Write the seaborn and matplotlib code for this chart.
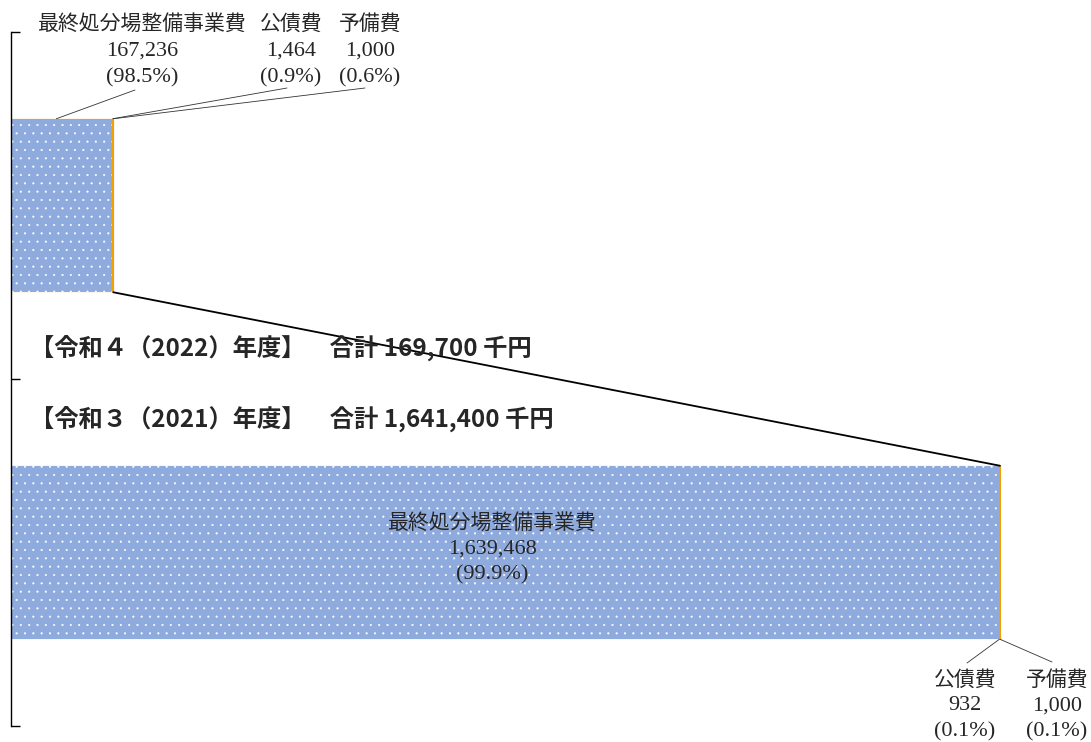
import numpy as np
import pandas as pd
import matplotlib
matplotlib.use("Agg")
import matplotlib.pyplot as plt
import seaborn as sns

# data
years = ["2022", "2021"]
items = ["最終処分場整備事業費", "公債費", "予備費"]
values_2022 = [167236, 1464, 1000]
values_2021 = [1639468, 932, 1000]
shares_2022 = ["(98.5%)", "(0.9%)", "(0.6%)"]
shares_2021 = ["(99.9%)", "(0.1%)", "(0.1%)"]
headers = ["【令和４（2022）年度】　合計 169,700 千円",
           "【令和３（2021）年度】　合計 1,641,400 千円"]
colors = ["#8FAADC", "#F5A000", "#F5A000"]

W, H = 1091, 742


def px(x, y):
    return x / W, 1 - y / H


sns.set_theme(style="white")
plt.rcParams["font.family"] = ["Noto Sans CJK JP", "DejaVu Sans"]
plt.rcParams["hatch.color"] = "white"
plt.rcParams["hatch.linewidth"] = 0.3
num_font = ["Liberation Serif", "Noto Sans CJK JP"]

rows = []
for year, vals in zip(years, [values_2022, values_2021]):
    cum = np.cumsum(vals)
    for item, c in zip(items, cum):
        rows.append({"year": year, "item": item, "cum": c})
df = pd.DataFrame(rows)

fig = plt.figure(figsize=(W / 100, H / 100), dpi=100)
# plot area: x 11..1091 px, y 32..726 px
ax = fig.add_axes([11 / W, 16 / H, 1080 / W, 694 / H])

bar_h = 0.5
edge_lw = 1.5
# half the edge stroke, in y data units (694 px span for 2 units)
half_stroke = edge_lw * 100 / 72 / 2 / (694 / 2)
# stacked bars: draw cumulative totals back to front
for item, col in reversed(list(zip(items, colors))):
    sub = df[df["item"] == item]
    main = item == items[0]
    sns.barplot(data=sub, x="cum", y="year", order=years, orient="h",
                color=col, width=bar_h if main else bar_h - 2 * half_stroke,
                errorbar=None, ax=ax,
                hatch=".." if main else None,
                edgecolor="white" if main else col,
                linewidth=0 if main else edge_lw, saturation=1)

total_2022 = sum(values_2022)
total_2021 = sum(values_2021)
ax.set_xlim(0, total_2021 * 1080 / 989)
ax.set_ylim(1.5, -0.5)

# series line between the two bars
ax.plot([total_2022, total_2021], [bar_h / 2, 1 - bar_h / 2],
        color="black", lw=1.3, zorder=5)

ax.xaxis.set_visible(False)
ax.set_ylabel("")
ax.set_yticks([-0.5, 0.5, 1.5])
ax.set_yticklabels([])
ax.tick_params(axis="y", direction="in", length=6.5, width=1, color="black", left=True)
for s in ["top", "right", "bottom"]:
    ax.spines[s].set_visible(False)
ax.spines["left"].set_color("black")
ax.spines["left"].set_linewidth(1)
ax.spines["left"].set_zorder(6)

# headers
fig.text(*px(30, 348), headers[0], fontsize=17.5, fontweight="bold", va="center", ha="left")
fig.text(*px(30, 419), headers[1], fontsize=17.5, fontweight="bold", va="center", ha="left")


def put_label(x, ys, name, val, share):
    fig.text(*px(x, ys[0]), name, fontsize=15, ha="center", va="center")
    fig.text(*px(x, ys[1]), f"{val:,}", fontsize=16, family=num_font, ha="center", va="center")
    fig.text(*px(x, ys[2]), share, fontsize=16, family=num_font, ha="center", va="center")


# 2022 labels (above)
top_x = [142, 291, 370]
for x, name, v, s in zip(top_x, items, values_2022, shares_2022):
    put_label(x, [24, 51, 78], name, v, s)

# 2021 main label inside bar
put_label(492, [523, 549, 575], items[0], values_2021[0], shares_2021[0])
# 2021 small labels below
bot_x = [965, 1057]
for x, name, v, s in zip(bot_x, items[1:], values_2021[1:], shares_2021[1:]):
    put_label(x, [680, 706, 732], name, v, s)

# leader lines
lk = dict(arrowstyle="-", lw=0.6, color="#333333", shrinkA=0, shrinkB=0)
cum22 = np.cumsum(values_2022)
cum21 = np.cumsum(values_2021)
ax.annotate("", xy=(values_2022[0] * 0.45, -bar_h / 2), xycoords="data",
            xytext=px(135, 90), textcoords="figure fraction", arrowprops=lk)
for c, (x, y) in zip(cum22[1:], [(287, 88), (365, 88)]):
    ax.annotate("", xy=(c, -bar_h / 2), xycoords="data",
                xytext=px(x, y), textcoords="figure fraction", arrowprops=lk)
for c, (x, y) in zip(cum21[1:], [(967, 663), (1052, 662)]):
    ax.annotate("", xy=(c, 1 + bar_h / 2), xycoords="data",
                xytext=px(x, y), textcoords="figure fraction", arrowprops=lk)

fig.savefig("out.png", dpi=100)
